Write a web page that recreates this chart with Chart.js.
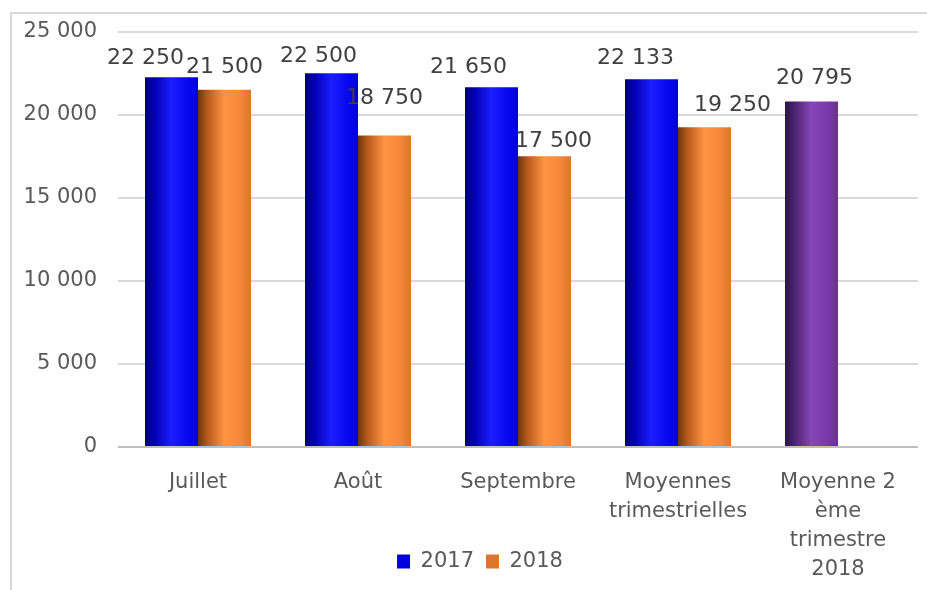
<!DOCTYPE html>
<html>
<head>
<meta charset="utf-8">
<script src="https://cdn.jsdelivr.net/npm/chart.js@4.4.0/dist/chart.umd.min.js"></script>
<style>
  html, body { margin: 0; padding: 0; background: #fff; overflow: hidden; }
  #frame { position: absolute; left: 10px; top: 12px; width: 960px; height: 600px;
           border-left: 2px solid #d9d9d9; border-top: 2px solid #d9d9d9; }
  #wrap { position: absolute; left: 12px; top: -2px; width: 938px; height: 632px; }
</style>
</head>
<body>
<div id="frame"></div>
<div id="wrap"><canvas id="chart"></canvas></div>
<script>
// data
var categories = ['Juillet', 'Août', 'Septembre', ['Moyennes', 'trimestrielles'], ['Moyenne 2', 'ème', 'trimestre', '2018']]
var values2017 = [22250, 22500, 21650, 22133, 20795]
var values2018 = [21500, 18750, 17500, 19250, null]
var yTicks = [0, 5000, 10000, 15000, 20000, 25000]

// style: which tone each 2017 bar uses, and how the value labels were moved
var tones2017 = ['blue', 'blue', 'blue', 'blue', 'purple']
var shiftX2017 = [-26, -13, -23, -16, 3]
var shiftX2018 = [0, 0, 9, 28, 0]
var gap2017 = [13, 11, 14, 15, 17]
var gap2018 = [17, 31, 9, 16, 0]

var catPct = 0.6625
var tones = {
    blue: ['#00006e', '#0000b4', '#1c1cff', '#0808f4', '#0000dc'],
    orange: ['#6e3410', '#b85a1c', '#ff9442', '#f8893a', '#dc752e'],
    purple: ['#2c1446', '#4a2370', '#8646b6', '#7a3aac', '#6c2e9c']
}
var solid = { blue: '#0000ff', orange: '#ed7d31', purple: '#7030a0' }

function fmt(v) {
    return String(v).replace(/\B(?=(\d{3})+(?!\d))/g, ' ')
}

function barFill(c, tone) {
    var chart = c.chart
    var xs = chart.scales.x
    if (c.type !== 'data' || !xs || !chart.chartArea) return solid[tone]
    var bw = xs.width / categories.length * catPct / 2
    var center = xs.getPixelForValue(c.dataIndex)
    var left = c.datasetIndex === 0 ? center - bw : center
    var g = chart.ctx.createLinearGradient(left, 0, left + bw, 0)
    var st = tones[tone]
    g.addColorStop(0, st[0])
    g.addColorStop(0.18, st[1])
    g.addColorStop(0.5, st[2])
    g.addColorStop(0.78, st[3])
    g.addColorStop(1, st[4])
    return g
}

var valueLabels = {
    id: 'valueLabels',
    afterDatasetsDraw: function (chart) {
        var ctx = chart.ctx
        ctx.save()
        ctx.font = '22px "DejaVu Sans"'
        ctx.fillStyle = '#404040'
        ctx.textAlign = 'center'
        ctx.textBaseline = 'alphabetic'
        chart.data.datasets.forEach(function (ds, di) {
            var meta = chart.getDatasetMeta(di)
            meta.data.forEach(function (bar, i) {
                var v = ds.data[i]
                if (v === null) return
                var sx = di === 0 ? shiftX2017[i] : shiftX2018[i]
                var gy = di === 0 ? gap2017[i] : gap2018[i]
                ctx.fillText(fmt(v), bar.x + sx, bar.y - gy)
            })
        })
        ctx.restore()
    }
}

// the legend sits beside the last, four-line category label, like in the original
var legendUp = {
    id: 'legendUp',
    afterLayout: function (chart) {
        var lg = chart.legend
        lg.top -= 48
        lg.bottom -= 48
        lg.left += 15
        lg.right += 15
    }
}

var ctx = document.getElementById('chart')
var myChart = new Chart(ctx, {
    type: 'bar',
    data: {
        labels: categories,
        datasets: [{
            label: '2017',
            data: values2017,
            backgroundColor: function (c) {
                return barFill(c, c.type === 'data' ? tones2017[c.dataIndex] : 'blue')
            }
        }, {
            label: '2018',
            data: values2018,
            backgroundColor: function (c) { return barFill(c, 'orange') }
        }]
    },
    options: {
        responsive: true,
        maintainAspectRatio: false,
        animation: false,
        layout: { padding: { left: 0, right: 32, top: 6, bottom: 0 } },
        datasets: { bar: { categoryPercentage: catPct, barPercentage: 1 } },
        plugins: {
            tooltip: { enabled: false },
            legend: {
                position: 'bottom',
                labels: {
                    boxWidth: 13,
                    boxHeight: 14,
                    padding: 12,
                    color: '#595959',
                    font: { family: 'DejaVu Sans', size: 21 }
                }
            }
        },
        scales: {
            x: {
                grid: { display: false },
                border: { display: false },
                ticks: {
                    color: '#595959',
                    maxRotation: 0,
                    autoSkip: false,
                    padding: 13,
                    font: { family: 'DejaVu Sans', size: 21, lineHeight: 1.38 }
                },
                afterFit: function (scale) { scale.height = 140 }
            },
            y: {
                min: 0,
                max: 25000,
                afterBuildTicks: function (scale) {
                    scale.ticks = yTicks.map(function (v) { return { value: v } })
                },
                afterFit: function (scale) { scale.width = 106 },
                border: { display: false },
                grid: {
                    drawTicks: false,
                    lineWidth: 2,
                    color: function (c) { return c.tick && c.tick.value === 0 ? '#bfbfbf' : '#d9d9d9' }
                },
                ticks: {
                    color: '#595959',
                    padding: 21,
                    font: { family: 'DejaVu Sans', size: 21 },
                    callback: function (v) { return fmt(v) }
                }
            }
        }
    },
    plugins: [valueLabels, legendUp]
})
</script>
</body>
</html>
